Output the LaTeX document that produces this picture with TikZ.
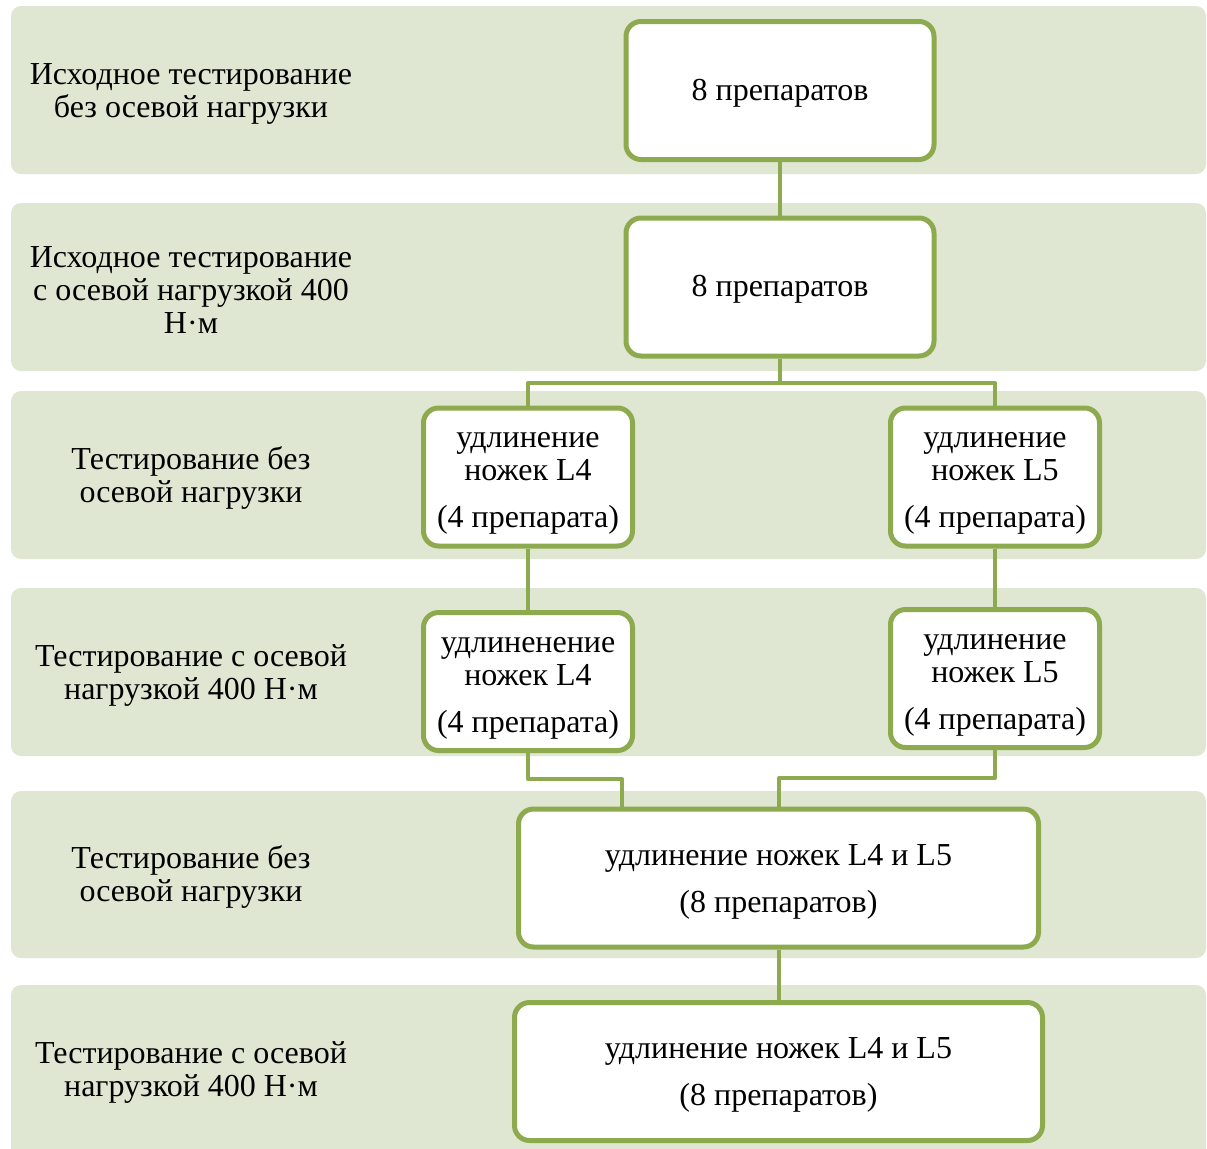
\documentclass[tikz,border=0pt]{standalone}
\usepackage{fontspec}
\setmainfont{Liberation Serif}
\usepackage{tikz}
\usetikzlibrary{calc}
\definecolor{bandgreen}{HTML}{DFE7D2}
\definecolor{linegreen}{HTML}{8DAA4F}
% box text, set a little below the box centre
\newcommand{\boxtext}[2][2pt]{\raisebox{-#1}[\height][\depth]{\begin{tabular}{@{}c@{}}#2\end{tabular}}}
\tikzset{
  band_bg/.style = {fill=bandgreen, rounded corners=5pt},
  stage_lbl/.style = {align=center, inner sep=0pt, font=\fontsize{16}{16.5}\selectfont},
  prep_box/.style = {draw=linegreen, line width=2.5pt, fill=white, rounded corners=7.5pt,
    align=center, inner sep=0pt, minimum height=69pt, font=\fontsize{16}{16.5}\selectfont},
  box_big/.style = {prep_box, minimum width=154pt},
  box_small/.style = {prep_box, minimum width=104.5pt},
  box_wide/.style = {prep_box, minimum width=261pt},
  link/.style = {draw=linegreen, line width=2pt, line join=round}
}

\begin{document}
\begin{tikzpicture}[x=0.5pt,y=-0.5pt]
\useasboundingbox (0,0) rectangle (1207,1148);
% background stripes
\foreach \top/\bot in {6/174, 203/371, 391/559, 588/756, 791/958, 985/1170}
	\fill [band_bg] (11,\top) rectangle (1206,\bot);

% stage labels
\node [stage_lbl] (lbl1) at (191,94)   {Исходное тестирование\\без осевой нагрузки};
\node [stage_lbl] (lbl2) at (191,290)  {Исходное тестирование\\с осевой нагрузкой 400\\Н·м};
\node [stage_lbl] (lbl3) at (191,478)  {Тестирование без\\осевой нагрузки};
\node [stage_lbl] (lbl4) at (191,675)  {Тестирование с осевой\\нагрузкой 400 Н·м};
\node [stage_lbl] (lbl5) at (191,877)  {Тестирование без\\осевой нагрузки};
\node [stage_lbl] (lbl6) at (191,1072) {Тестирование с осевой\\нагрузкой 400 Н·м};

% specimen boxes
\node [box_big]   (box1)  at (780,90.5)  {\boxtext[1.5pt]{8 препаратов}};
\node [box_big]   (box2)  at (780,287)   {\boxtext[1.5pt]{8 препаратов}};
\node [box_small] (box3l) at (528,477)   {\boxtext{удлинение\\ножек L4\\[7pt](4 препарата)}};
\node [box_small] (box3r) at (995,477)   {\boxtext{удлинение\\ножек L5\\[7pt](4 препарата)}};
\node [box_small] (box4l) at (528,681.5) {\boxtext{удлиненение\\ножек L4\\[7pt](4 препарата)}};
\node [box_small] (box4r) at (995,678.5) {\boxtext{удлинение\\ножек L5\\[7pt](4 препарата)}};
\node [box_wide, minimum width=260pt] (box5) at (778.5,878)  {\boxtext{удлинение ножек L4 и L5\\[7pt](8 препаратов)}};
\node [box_wide, minimum width=264pt] (box6) at (778.5,1071.5) {\boxtext{удлинение ножек L4 и L5\\[7pt](8 препаратов)}};

% connectors
\coordinate (split) at (780,383);
\coordinate (j4l) at (622,779);
\coordinate (j4r) at (779,778);
\draw [link] (box1.south) -- (box2.north);
\draw [link] (box2.south) -- (split) -| (box3l.north);
\draw [link] (split) -| (box3r.north);
\draw [link] (box3l.south) -- (box4l.north);
\draw [link] (box3r.south) -- (box4r.north);
\draw [link] (box4l.south) |- (j4l) -- (j4l |- box5.north);
\draw [link] (box4r.south) |- (j4r) -- (j4r |- box5.north);
\draw [link] (box5.south) -- (box6.north);
\end{tikzpicture}
\end{document}
